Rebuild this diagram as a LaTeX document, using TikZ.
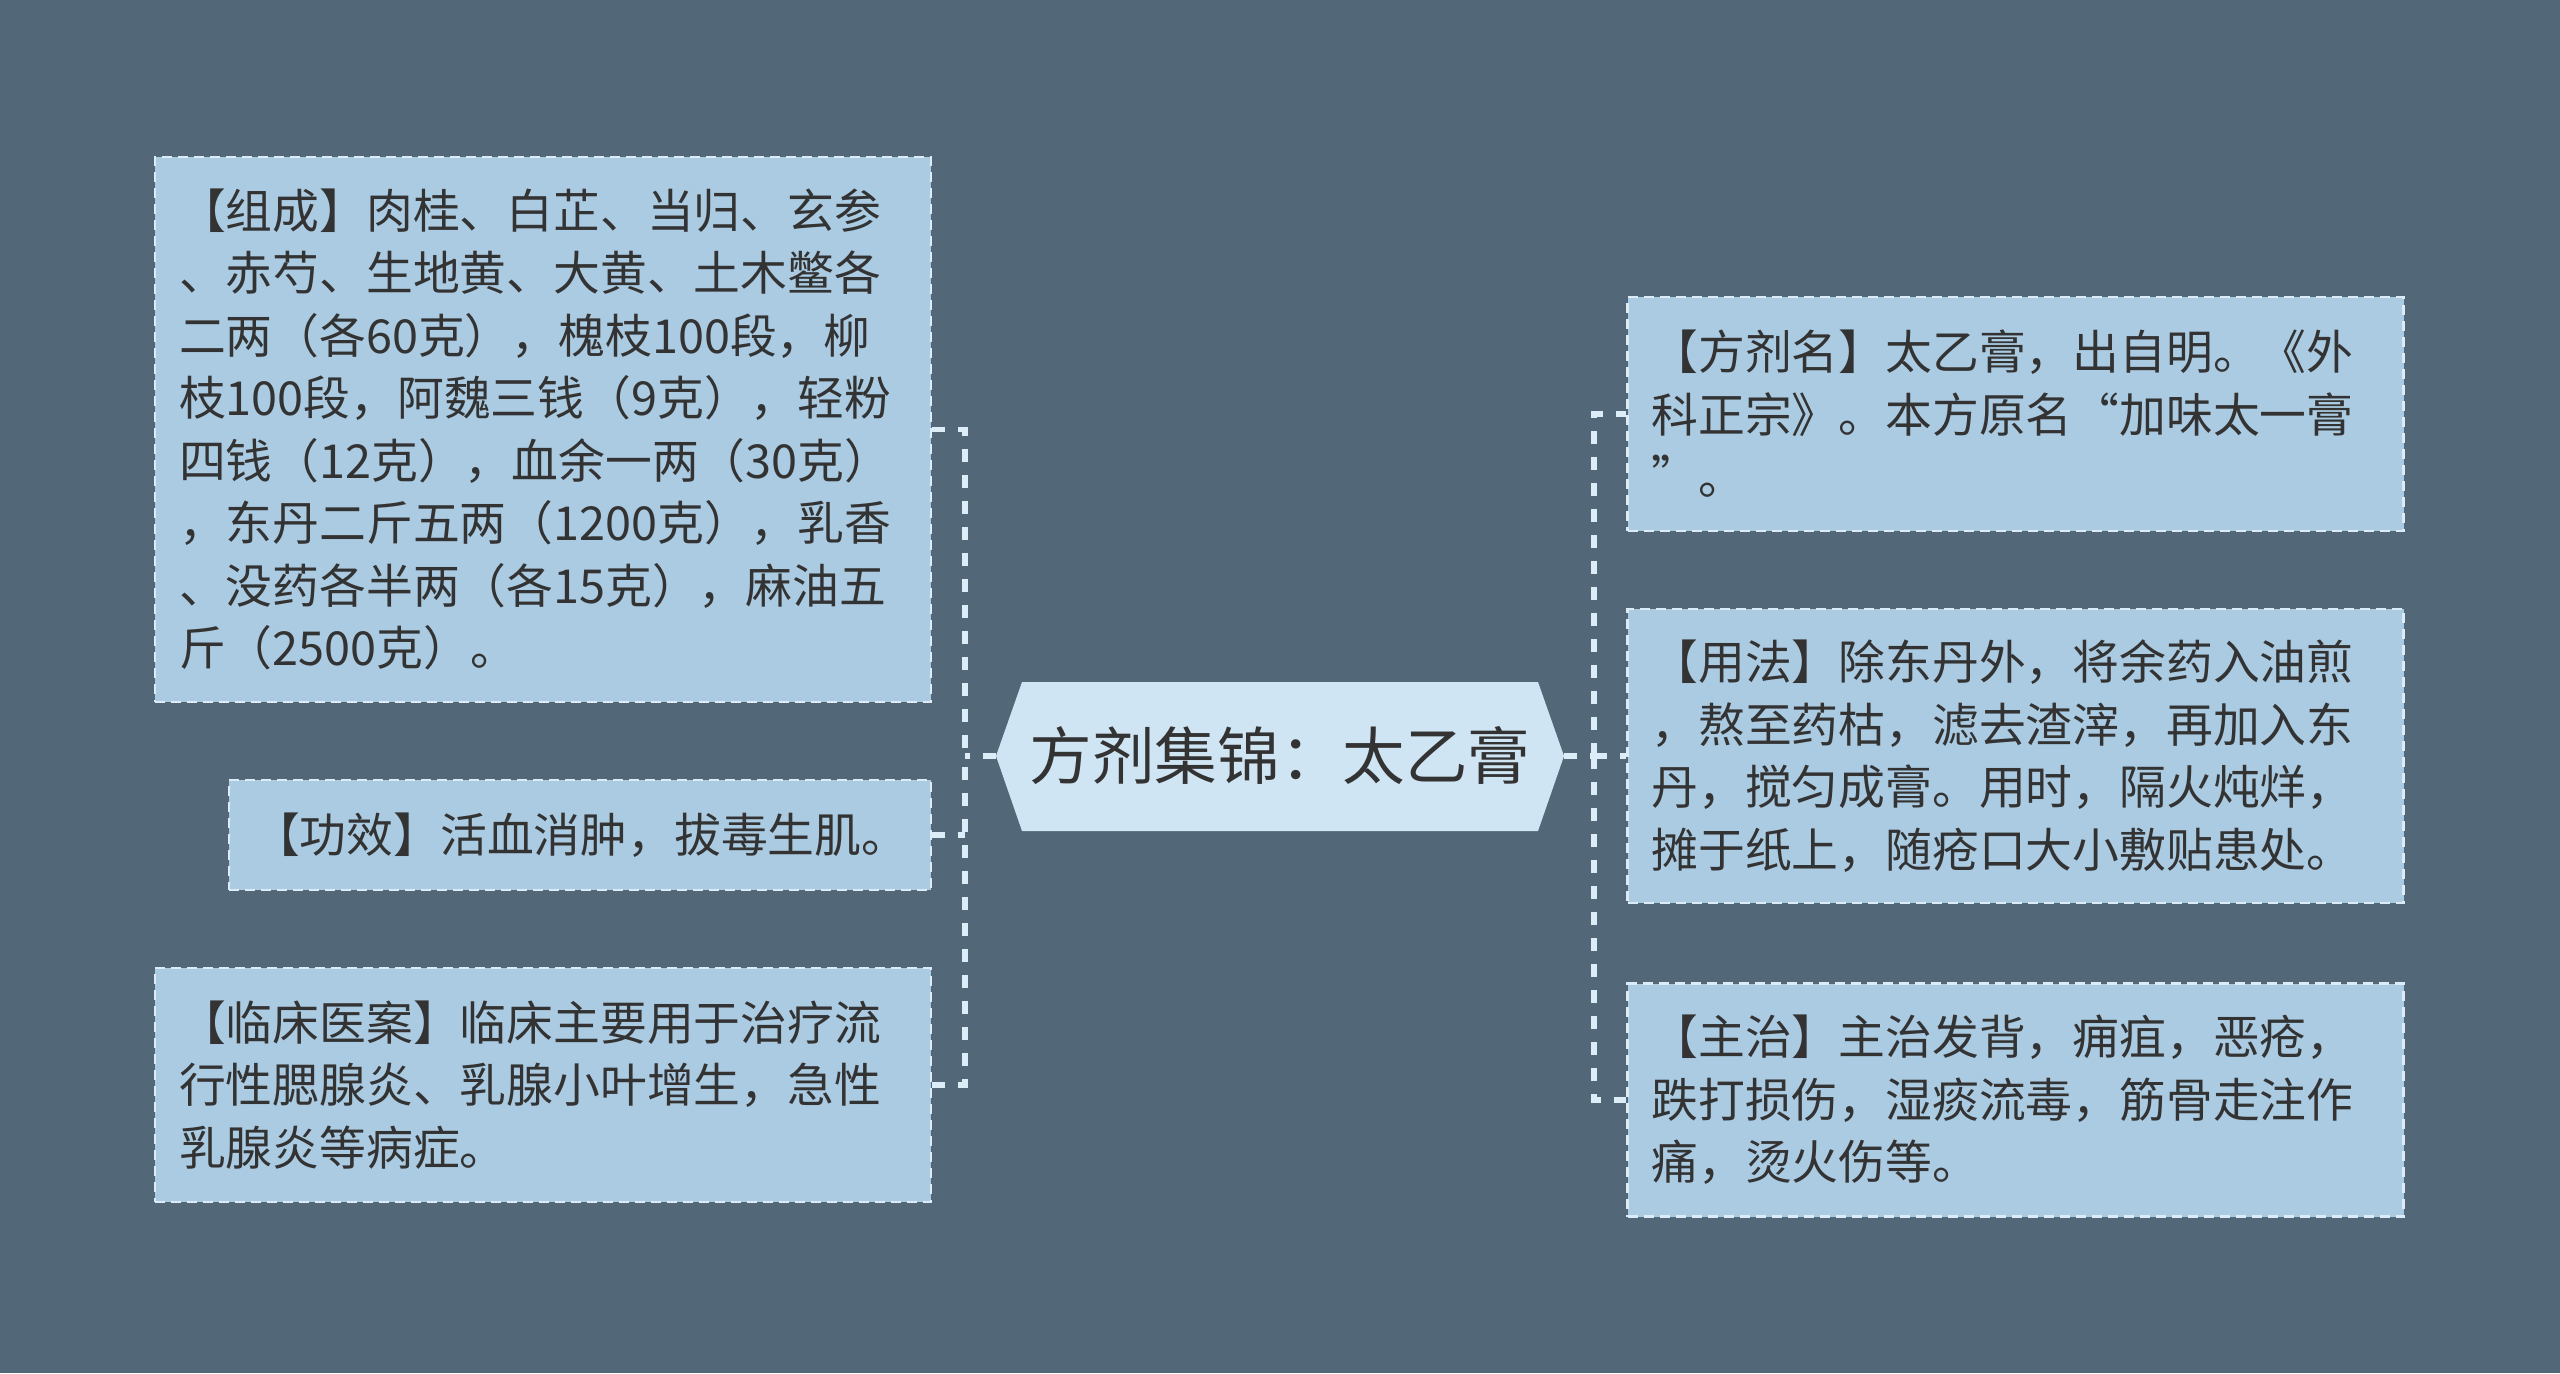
\documentclass[tikz,border=0pt]{standalone}
\usepackage{fontspec}
\setmainfont{Noto Sans CJK SC}
\definecolor{bgc}{HTML}{526878}
\definecolor{boxfill}{HTML}{ABCBE2}
\definecolor{boxline}{HTML}{DCEBF5}
\definecolor{cfill}{HTML}{CFE5F3}
\definecolor{conn}{HTML}{DDEDF7}
\definecolor{txt}{HTML}{333333}
\tikzset{
  leaf/.style={rectangle, fill=boxfill, draw=boxline, line width=1.4pt, dash pattern=on 5pt off 3pt,
    inner xsep=12pt, inner ysep=0pt, align=left, text=txt,
    font=\fontsize{23.4}{31.25}\selectfont},
  wide/.style={leaf, text width=364pt, minimum width=388pt},
  connector/.style={draw=conn, line width=2.8pt, dash pattern=on 6.5pt off 6.5pt},
}
\begin{document}
\begin{tikzpicture}[x=0.5pt,y=-0.5pt]
\fill[bgc] (0,0) rectangle (2560,1373);
\useasboundingbox (0,0) rectangle (2560,1373);
% center hexagon
\fill[cfill] (996,756) -- (1022,682) -- (1538,682) -- (1564,756) -- (1538,831) -- (1022,831) -- cycle;
\node[minimum width=284pt, minimum height=74.5pt, inner sep=0pt, text=txt,
  font=\fontsize{31.3}{36}\selectfont] (c) at (1280,756) {方剂集锦：太乙膏};
% left boxes
\node[wide, minimum height=272.5pt] (a1) at (543,429.5) {【组成】肉桂、白芷、当归、玄参\\、赤芍、生地黄、大黄、土木鳖各\\二两（各60克），槐枝100段，柳\\枝100段，阿魏三钱（9克），轻粉\\四钱（12克），血余一两（30克）\\，东丹二斤五两（1200克），乳香\\、没药各半两（各15克），麻油五\\斤（2500克）。};
\node[leaf, text width=327pt, minimum width=351pt, minimum height=55pt] (a2) at (580,835) {【功效】活血消肿，拔毒生肌。};
\node[wide, minimum height=117pt] (a3) at (543,1085) {【临床医案】临床主要用于治疗流\\行性腮腺炎、乳腺小叶增生，急性\\乳腺炎等病症。};
% right boxes
\node[wide, minimum height=117pt] (b1) at (2015.5,414) {【方剂名】太乙膏，出自明。《外\\科正宗》。本方原名“加味太一膏\\”。};
\node[wide, minimum height=147pt] (b2) at (2015.5,756) {【用法】除东丹外，将余药入油煎\\，熬至药枯，滤去渣滓，再加入东\\丹，搅匀成膏。用时，隔火炖烊，\\摊于纸上，随疮口大小敷贴患处。};
\node[wide, minimum height=116.5pt] (b3) at (2015.5,1100) {【主治】主治发背，痈疽，恶疮，\\跌打损伤，湿痰流毒，筋骨走注作\\痛，烫火伤等。};
% junctions
\coordinate (lj) at (965,756);
\coordinate (rj) at (1594,756);
\draw[connector] (c.west) -- (lj);
\draw[connector] (a1.east) -| (lj);
\draw[connector] (a3.east) -| (lj);
\draw[connector] (a2.east) -- (a2.east -| lj);
\draw[connector] (c.east) -- (rj);
\draw[connector] (rj) |- (b1.west);
\draw[connector] (rj) |- (b3.west);
\draw[connector] (rj) -- (b2.west);
\end{tikzpicture}
\end{document}
